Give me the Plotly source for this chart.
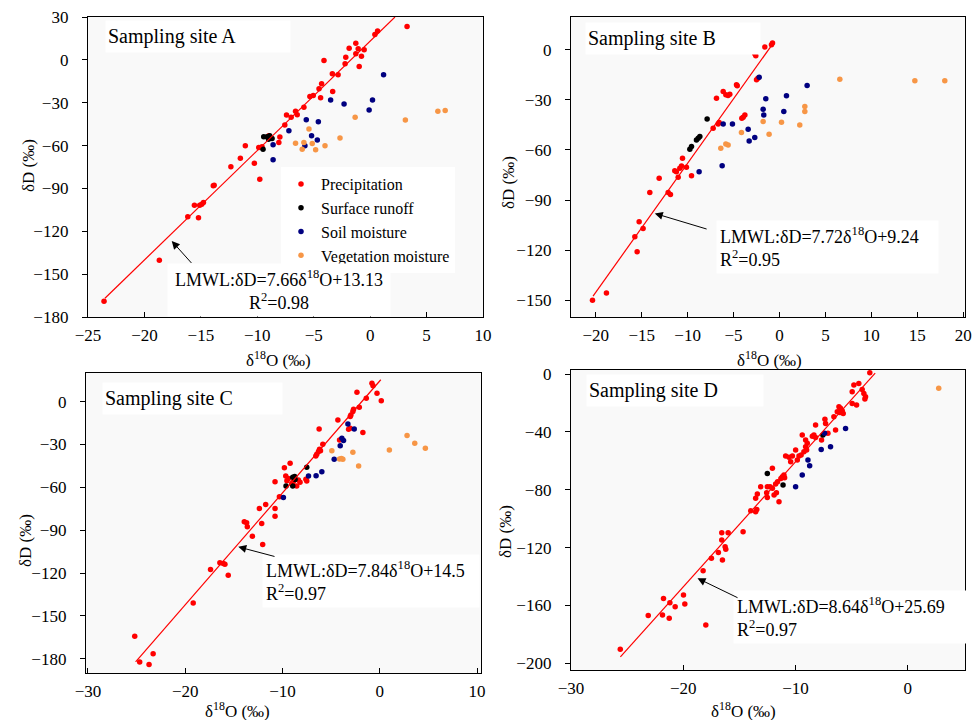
import plotly.graph_objects as go
from plotly.subplots import make_subplots

# ---- site A ----
A_PRE_X = [3.27, 0.66, 0.42, -1.27, -1.86, -1.06, -0.53, -2.16, -1.27, -0.77, -4.09, -0.97, -2.22,
           -3.35, -2.84, -3.32, -4.30, -4.53, -4.39, -5.04, -5.34, -5.87, -6.61, -6.46, -7.41, -7.00,
           -7.56, -8.00, -8.09, -8.98, -9.87, -9.58, -11.06, -11.5, -10.26, -12.34, -9.78, -13.82,
           -13.9, -15.57, -14.92, -14.77, -15.1, -15.21, -16.16, -18.68, -23.58]
A_PRE_Y = [23.4, 20.2, 17.8, 11.7, 8.2, 7.8, 7.1, 1.9, 4.3, 2.6, -0.4, -4.6, -2.8,
           -9.8, -10.5, -22.2, -16.8, -20.3, -26.6, -25.0, -25.7, -33.2, -36.0, -38.4, -38.6, -40.2,
           -45.6, -54.0, -57.8, -53.1, -61.3, -60.8, -60.1, -68.8, -72.3, -74.9, -83.5, -87.7,
           -88.2, -101.8, -101.1, -99.9, -101.8, -110.5, -109.8, -140.2, -169.0]
A_RUN_X = [-9.43, -9.13, -8.9, -8.69, -9.0, -9.49]
A_RUN_Y = [-53.8, -53.8, -53.1, -55.0, -55.5, -62.5]
A_SOIL_X = [1.19, -3.5, -2.31, 0.21, -0.09, -5.66, -4.59, -7.20, -5.19, -4.68, -8.6, -5.78, -8.6]
A_SOIL_Y = [-10.5, -28.1, -30.9, -28.1, -35.1, -41.9, -43.3, -49.6, -53.1, -56.1, -59.4, -60.1, -70.0]
A_VEG_X = [6.0, 6.65, 3.12, -1.33, -5.42, -2.67, -6.61, -5.87, -5.13, -4.83, -4.0, -6.02]
A_VEG_Y = [-36.0, -35.5, -42.1, -40.2, -48.4, -54.7, -58.3, -57.8, -58.5, -62.9, -60.1, -62.5]

# ---- site B ----
B_PRE_X = [-0.76, -0.87, -1.6, -2.69, -2.58, -2.5, -2.35, -4.68, -4.6, -6.13, -5.84, -5.41, -5.6,
           -6.86, -3.77, -3.95, -4.1, -6.57, -6.68, -7.22, -10.56, -10.67, -10.85, -11.22, -11.4,
           -10.13, -9.58, -11.03, -13.1, -12.12, -11.87, -14.12, -15.28, -14.85, -15.75, -15.5,
           -18.84, -20.36]
B_PRE_Y = [4.0, 3.0, 1.6, -2.4, -3.6, -18.0, -17.0, -21.0, -21.6, -25.0, -27.0, -26.6, -27.4,
           -29.0, -39.0, -40.4, -41.0, -43.6, -44.4, -47.0, -65.0, -69.6, -71.0, -73.0, -72.4,
           -70.4, -75.4, -76.4, -77.0, -85.4, -86.6, -85.4, -103.0, -107.0, -112.0, -121.0,
           -145.6, -150.0]
B_RUN_X = [-7.88, -8.67, -9.04, -9.58, -9.76, -8.85]
B_RUN_Y = [-41.4, -52.0, -54.0, -58.0, -59.6, -53.0]
B_SOIL_X = [-2.21, 3.01, 0.76, -1.49, -1.78, -1.71, 0.47, -6.13, -5.12, -3.41, -3.3, -2.69, -6.24, -8.75]
B_SOIL_Y = [-16.4, -21.4, -27.6, -29.4, -35.6, -39.0, -37.0, -44.4, -44.4, -47.6, -54.6, -52.6, -69.4, -73.0]
B_VEG_X = [6.57, 14.74, 18.0, 2.76, 2.76, -1.78, 0.22, 2.21, -1.13, -4.14, -5.84, -5.59, -6.39]
B_VEG_Y = [-17.6, -18.6, -18.6, -34.0, -37.0, -43.0, -43.4, -45.0, -50.6, -49.6, -56.4, -57.0, -59.0]

# ---- site C ----
C_PRE_X = [-0.81, -0.7, -0.29, -2.35, 0.15, -1.39, -2.11, -2.7, -2.77, -2.97, -3.04, -4.31, -1.74,
           -3.21, -3.05, -4.14, -6.24, -5.86, -6.2, -6.3, -6.48, -6.1, -6.58, -9.22, -9.81, -9.67,
           -9.4, -9.55, -9.05, -8.9, -8.37, -7.51, -7.6, -8.2, -8.54, -10.77, -10.32, -10.77, -10.77,
           -11.73, -12.38, -13.93, -13.69, -13.62, -12.14, -13.1, -12.04, -16.44, -16.09, -15.92,
           -17.4, -15.58, -19.18, -25.19, -24.68, -23.72, -23.3]
C_PRE_Y = [12.9, 11.0, 5.8, 6.5, 0.5, 2.3, -4.0, -5.4, -7.0, -9.4, -10.5, -12.9, -21.7,
           -19.4, -18.7, -26.9, -19.2, -29.9, -33.4, -35.0, -36.9, -34.4, -38.1, -43.2, -46.3, -52.1,
           -53.8, -55.4, -57.3, -56.1, -54.9, -55.6, -54.4, -56.5, -59.1, -56.1, -66.6, -74.8, -80.2,
           -72.0, -74.8, -84.2, -84.9, -87.7, -85.3, -94.2, -100.0, -112.9, -113.4, -113.8,
           -117.6, -121.5, -141.0, -164.3, -182.3, -184.0, -176.5]
C_RUN_X = [-7.51, -8.95, -8.71, -9.64, -8.95, -8.75]
C_RUN_Y = [-46.0, -53.0, -54.5, -59.1, -59.1, -52.5]
C_SOIL_X = [-3.28, -2.63, -3.9, -3.73, -4.07, -4.69, -5.96, -6.55, -7.33, -9.91]
C_SOIL_Y = [-15.7, -19.2, -25.7, -27.3, -30.9, -40.4, -49.1, -51.9, -52.1, -67.1]
C_VEG_X = [2.8, 3.59, 4.68, 0.98, -4.93, -2.77, -4.14, -3.8, -3.95, -2.18]
C_VEG_Y = [-23.8, -29.2, -32.7, -33.9, -34.4, -35.5, -40.2, -40.4, -39.8, -45.1]

# ---- site D ----
D_PRE_X = [-3.38, -4.8, -4.36, -4.06, -4.95, -3.91, -3.76, -3.82, -4.56, -4.95, -6.13, -5.99, -5.84,
           -6.04, -5.75, -6.28, -6.58, -6.43, -7.38, -7.32, -7.11, -7.68, -8.21, -8.36, -8.21,
           -8.5, -9.1, -8.95, -9.01, -9.4, -9.25, -9.1, -9.69, -9.5, -9.84, -9.99, -10.28, -10.58,
           -10.88, -10.43, -11.03, -10.97, -11.17, -11.3, -12.06, -11.77, -11.6, -11.47, -12.51,
           -12.27, -12.06, -13.1, -12.57, -11.91, -11.7, -13.4, -12.51, -13.55, -13.99, -13.55,
           -13.45, -14.67, -16.57, -16.0, -16.57, -16.27, -16.21, -16.87, -16.51, -17.49, -18.23,
           -19.98, -19.86, -21.76, -21.19, -20.72, -21.85, -21.25, -23.12, -17.99, -25.61]
D_PRE_Y = [0.9, -7.6, -6.5, -10.6, -12.2, -13.4, -15.7, -17.3, -21.4, -20.3, -22.6, -23.7, -25.3,
           -26.5, -27.2, -26.0, -29.5, -38.7, -31.3, -34.1, -41.0, -45.6, -35.3, -42.2, -43.8,
           -43.0, -45.6, -47.9, -52.5, -42.2, -53.7, -50.2, -56.7, -56.0, -59.4, -52.5, -56.7, -57.6,
           -56.7, -60.6, -69.8, -71.7, -71.0, -72.2, -65.2, -76.0, -74.4, -88.2, -77.9,
           -77.9, -79.0, -77.9, -82.0, -83.6, -82.0, -82.9, -85.3, -85.9, -94.5, -95.2,
           -93.6, -109.0, -109.7, -109.7, -114.7, -119.4, -121.2, -123.3, -128.6, -127.4, -135.9,
           -152.8, -159.0, -155.1, -158.1, -160.8, -166.6, -168.9, -167.0, -173.5, -190.3]
D_RUN_X = [-12.51, -11.11, -7.56]
D_RUN_Y = [-68.7, -76.7, -42.2]
D_SOIL_X = [-5.54, -6.88, -7.71, -7.41, -8.89, -8.74, -9.4, -9.99]
D_SOIL_Y = [-37.6, -50.2, -52.1, -41.0, -59.4, -63.4, -69.8, -77.9]
D_VEG_X = [2.76]
D_VEG_Y = [-9.9]

# LMWL fits: slope, intercept, r2, x extent of the drawn line
LMWL_SLOPE = [7.66, 7.72, 7.84, 8.64]
LMWL_INTERCEPT = [13.13, 9.24, 14.5, 25.69]
LMWL_R2 = [0.98, 0.95, 0.97, 0.97]
LMWL_XMIN = [-23.5, -20.3, -25.1, -25.6]
LMWL_XMAX = [2.2, -0.6, 0.1, -2.9]

SITES = ['A', 'B', 'C', 'D']
GROUPS = ['Precipitation', 'Surface runoff', 'Soil moisture', 'Vegetation moisture']
COLORS = ['#ff0000', '#000000', '#000080', '#f79646']

DATA = {
    'A': [(A_PRE_X, A_PRE_Y), (A_RUN_X, A_RUN_Y), (A_SOIL_X, A_SOIL_Y), (A_VEG_X, A_VEG_Y)],
    'B': [(B_PRE_X, B_PRE_Y), (B_RUN_X, B_RUN_Y), (B_SOIL_X, B_SOIL_Y), (B_VEG_X, B_VEG_Y)],
    'C': [(C_PRE_X, C_PRE_Y), (C_RUN_X, C_RUN_Y), (C_SOIL_X, C_SOIL_Y), (C_VEG_X, C_VEG_Y)],
    'D': [(D_PRE_X, D_PRE_Y), (D_RUN_X, D_RUN_Y), (D_SOIL_X, D_SOIL_Y), (D_VEG_X, D_VEG_Y)],
}

FONT = 'Liberation Serif, Times New Roman, serif'
W, H = 979, 720

# layout per panel (pixel boxes, ranges, ticks)
BOX = [(88, 483, 17, 317), (571, 965, 17, 317), (86, 481, 373, 673), (571, 965, 370, 670)]
XRANGE = [[-25, 10], [-22.7, 20.2], [-30.2, 10.4], [-30, 5.1]]
YRANGE = [[-180, 30], [-160, 19.6], [-190, 20], [-204.6, 2.8]]
XDTICK = [5, 5, 10, 10]
YDTICK = [30, 30, 30, 40]

fig = make_subplots(rows=2, cols=2)

for i, s in enumerate(SITES):
    r, c = i // 2 + 1, i % 2 + 1
    for g, (xs, ys) in enumerate(DATA[s]):
        fig.add_trace(go.Scatter(x=xs, y=ys, mode='markers', name=GROUPS[g],
                                 marker=dict(color=COLORS[g], size=5.5),
                                 showlegend=(i == 0)), row=r, col=c)
    lx = [LMWL_XMIN[i], LMWL_XMAX[i]]
    ly = [LMWL_SLOPE[i] * v + LMWL_INTERCEPT[i] for v in lx]
    fig.add_trace(go.Scatter(x=lx, y=ly, mode='lines', line=dict(color='#ff0000', width=1.2),
                             showlegend=False, hoverinfo='skip'), row=r, col=c)

axis_common = dict(showline=True, linecolor='black', linewidth=1.3, mirror=True,
                   showgrid=False, zeroline=False, ticklen=5, tickcolor='black',
                   automargin=False,
                   tickfont=dict(family=FONT, size=17, color='black'))

for i in range(4):
    x0, x1, y0, y1 = BOX[i]
    xa = 'xaxis' if i == 0 else 'xaxis%d' % (i + 1)
    ya = 'yaxis' if i == 0 else 'yaxis%d' % (i + 1)
    fig.update_layout({
        xa: dict(domain=[x0 / W, x1 / W], range=XRANGE[i], dtick=XDTICK[i], tick0=0,
                 ticks='inside', ticklabelstandoff=2, **axis_common),
        ya: dict(domain=[1 - y1 / H, 1 - y0 / H], range=YRANGE[i], dtick=YDTICK[i], tick0=0,
                 ticks='outside', ticklabelstandoff=10, **axis_common),
    })

annotations = []

# panel titles
TITLE_POS = [(-23.5, 16.3, 180), (-21.2, 7.0, 170), (-28.6, 2.3, 175), (-28.7, -11.1, 172)]
for i, s in enumerate(SITES):
    tx, ty, tw = TITLE_POS[i]
    xr = 'x' if i == 0 else 'x%d' % (i + 1)
    yr = 'y' if i == 0 else 'y%d' % (i + 1)
    annotations.append(dict(x=tx, y=ty, xref=xr, yref=yr, xanchor='left', yanchor='middle',
                            text='Sampling site ' + s, showarrow=False, bgcolor='white',
                            width=tw, height=27, align='left', borderpad=2,
                            font=dict(family=FONT, size=20, color='black')))

# equations + arrows
EQ_POS = [(-18.0, -142.5, 216, 'center'), (-6.9, -102.0, 215, 'left'),
          (-12.1, -106.8, 210, 'left'), (-15.6, -149.3, 232, 'left')]
ARROW_TIP = [(-17.58, -126.8), (-13.58, -98.0), (-14.55, -101.7), (-18.73, -141.2)]
ARROW_TAIL = [(-15.72, -143.2), (-7.77, -107.6), (-10.67, -108.7), (-15.03, -155.1)]
for i in range(4):
    xr = 'x' if i == 0 else 'x%d' % (i + 1)
    yr = 'y' if i == 0 else 'y%d' % (i + 1)
    ex, ey, ew, al = EQ_POS[i]
    txt = ('LMWL:δD=%gδ<sup>18</sup>O+%g<br>R<sup>2</sup>=%.2f'
           % (LMWL_SLOPE[i], LMWL_INTERCEPT[i], LMWL_R2[i]))
    annotations.append(dict(x=ex, y=ey, xref=xr, yref=yr, xanchor='left', yanchor='top',
                            text=txt, showarrow=False, bgcolor='white', width=ew,
                            align=al, borderpad=3,
                            font=dict(family=FONT, size=18, color='black')))
    annotations.append(dict(x=ARROW_TIP[i][0], y=ARROW_TIP[i][1], ax=ARROW_TAIL[i][0],
                            ay=ARROW_TAIL[i][1], xref=xr, yref=yr, axref=xr, ayref=yr,
                            text='', showarrow=True, arrowhead=2, arrowsize=1.6,
                            arrowwidth=1, arrowcolor='black'))

# axis titles
YT = [(28, 166), (508, 183), (25, 541), (505, 532)]
XT = [(278, 359), (769, 359), (237, 710), (743, 710)]
for i in range(4):
    annotations.append(dict(x=YT[i][0] / W, y=1 - YT[i][1] / H, xref='paper', yref='paper',
                            xanchor='center', yanchor='middle',
                            text='δD (‰)', textangle=-90, showarrow=False,
                            font=dict(family=FONT, size=17, color='black')))
    annotations.append(dict(x=XT[i][0] / W, y=1 - XT[i][1] / H, xref='paper', yref='paper',
                            xanchor='center', yanchor='middle',
                            text='δ<sup>18</sup>O (‰)', showarrow=False,
                            font=dict(family=FONT, size=17, color='black')))

fig.update_layout(
    width=W, height=H,
    margin=dict(l=0, r=0, t=0, b=0, pad=0),
    paper_bgcolor='white',
    plot_bgcolor='#f9f9f9',
    font=dict(family=FONT, size=17, color='black'),
    annotations=annotations,
    showlegend=True,
    legend=dict(x=281 / W, y=1 - 167 / H, xanchor='left', yanchor='top',
                bgcolor='white', font=dict(family=FONT, size=16, color='black'),
                itemwidth=30, tracegroupgap=0),
)

# the page body has a default 8px margin; drop it so the 979x720 figure fits the window
fig.write_html("out.html", config={'displayModeBar': False},
               post_script="document.body.style.margin='0px';")
